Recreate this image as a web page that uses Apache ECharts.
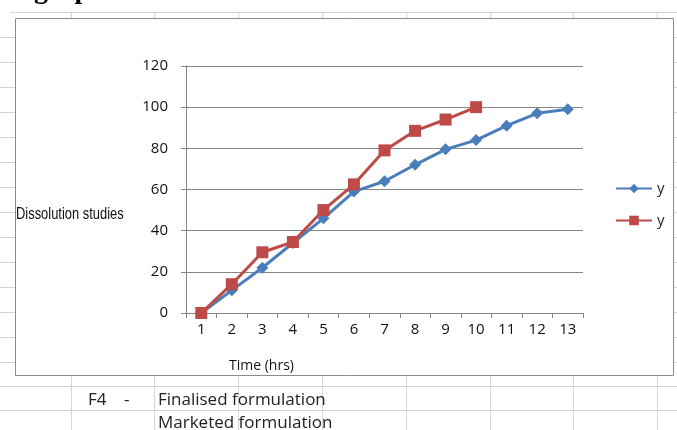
<!DOCTYPE html>
<html>
<head>
<meta charset="utf-8">
<script src="https://cdn.jsdelivr.net/npm/echarts@6/dist/echarts.min.js"></script>
<style>
html,body{margin:0;padding:0;background:#fff;}
#c{width:677px;height:430px;}
</style>
</head>
<body>
<div id="c"></div>
<script>
var categories = ['1','2','3','4','5','6','7','8','9','10','11','12','13'];
var seriesBlue = [0, 11, 22, 34, 46, 59, 64, 72, 79.5, 84, 91, 97, 99];
var seriesRed = [0, 14, 29.5, 34.5, 50, 62.5, 79, 88.5, 94, 100];
var yTicks = [0, 20, 40, 60, 80, 100, 120];
var yAxisTitle = 'Dissolution studies';
var xAxisTitle = 'Time (hrs)';
var noteRow1 = ['F4', '-', 'Finalised formulation'];
var noteRow2 = 'Marketed formulation';
var headingText = 'graph';

var chart = echarts.init(document.getElementById('c'), null, {renderer: 'canvas'});

var gridColor = '#d4d4d4';
var graphics = [];
graphics.push({type: 'line', shape: {x1: 10, y1: 12.5, x2: 677, y2: 12.5}, style: {stroke: gridColor, lineWidth: 1}, z: 0});
[386.5, 410.5].forEach(function (y) {
  graphics.push({type: 'line', shape: {x1: 0, y1: y, x2: 677, y2: y}, style: {stroke: gridColor, lineWidth: 1}, z: 0});
});
[71.5, 154.5, 238.5, 322.5, 406.5, 490.5, 573.5, 657.5].forEach(function (x) {
  graphics.push({type: 'line', shape: {x1: x, y1: 12, x2: x, y2: 18}, style: {stroke: gridColor, lineWidth: 1}, z: 0});
  graphics.push({type: 'line', shape: {x1: x, y1: 376, x2: x, y2: 430}, style: {stroke: gridColor, lineWidth: 1}, z: 0});
});
for (var ry = 37.5; ry < 375; ry += 25) {
  graphics.push({type: 'line', shape: {x1: 0, y1: ry, x2: 15, y2: ry}, style: {stroke: gridColor, lineWidth: 1}, z: 0});
  graphics.push({type: 'line', shape: {x1: 674, y1: ry, x2: 677, y2: ry}, style: {stroke: gridColor, lineWidth: 1}, z: 0});
}
graphics.push({type: 'rect', shape: {x: 15.5, y: 18.5, width: 658, height: 357}, style: {fill: '#fff', stroke: '#8a8a8a', lineWidth: 1}, z: 1});
graphics.push({type: 'text', left: 34, top: -23, style: {text: headingText, font: 'bold 28px "Liberation Serif", serif', fill: '#000'}, z: 2});
graphics.push({type: 'text', x: 16, y: 206, scaleX: 0.76, style: {text: yAxisTitle, font: '17px "Liberation Sans", sans-serif', fill: '#111'}, z: 3});
graphics.push({type: 'text', left: 229, top: 359, style: {text: xAxisTitle, font: '14px "Open Sans", sans-serif', fill: '#111'}, z: 3});
var noteFont = '17px "Open Sans", sans-serif';
graphics.push({type: 'text', left: 88, top: 392, style: {text: noteRow1[0], font: noteFont, fill: '#222'}, z: 3});
graphics.push({type: 'text', left: 124, top: 392, style: {text: noteRow1[1], font: noteFont, fill: '#222'}, z: 3});
graphics.push({type: 'text', left: 158, top: 392, style: {text: noteRow1[2], font: noteFont, fill: '#222'}, z: 3});
graphics.push({type: 'text', left: 158, top: 415, style: {text: noteRow2, font: noteFont, fill: '#222'}, z: 3});

var option = {
  animation: false,
  backgroundColor: '#fff',
  textStyle: {fontFamily: '"Open Sans", sans-serif'},
  graphic: graphics,
  grid: {left: 186, right: 94, top: 66, bottom: 117, containLabel: false, z: 5},
  legend: {
    orient: 'vertical', left: 610, top: 176, itemWidth: 36, itemHeight: 12, itemGap: 17,
    data: ['y', 'y '],
    textStyle: {fontSize: 15, color: '#222', fontFamily: '"Open Sans", sans-serif'},
    z: 6
  },
  xAxis: {
    type: 'category', data: categories, boundaryGap: true,
    axisLine: {lineStyle: {color: '#868686', width: 1}},
    axisTick: {show: true, length: 5, alignWithLabel: false, lineStyle: {color: '#868686'}},
    axisLabel: {color: '#111', fontSize: 15, margin: 9, fontFamily: '"Open Sans", sans-serif'},
    z: 5
  },
  yAxis: {
    type: 'value', min: 0, max: 120, interval: 20,
    axisLine: {show: true, lineStyle: {color: '#868686', width: 1}},
    axisTick: {show: true, length: 5, lineStyle: {color: '#868686'}},
    axisLabel: {color: '#111', fontSize: 15, margin: 18, fontFamily: '"Open Sans", sans-serif',
      formatter: function (v) { return yTicks.indexOf(v) >= 0 ? String(v) : ''; }},
    splitLine: {show: true, lineStyle: {color: '#868686', width: 1}},
    z: 5
  },
  series: [
    {
      name: 'y', type: 'line', data: seriesBlue, z: 6,
      symbol: 'diamond', symbolSize: 12, showSymbol: true,
      lineStyle: {color: '#4A7EBB', width: 3},
      itemStyle: {color: '#4A7EBB'}
    },
    {
      name: 'y ', type: 'line', data: seriesRed, z: 7,
      symbol: 'rect', symbolSize: 12, showSymbol: true,
      lineStyle: {color: '#BE4B48', width: 3},
      itemStyle: {color: '#BE4B48'}
    }
  ]
};
chart.setOption(option);
</script>
</body>
</html>
